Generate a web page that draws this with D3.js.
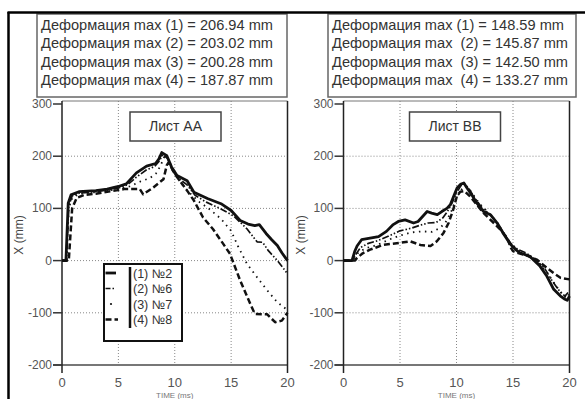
<!DOCTYPE html>
<html>
<head>
<meta charset="utf-8">
<script src="https://cdn.jsdelivr.net/npm/d3@7"></script>
<style>
  body { margin: 0; background: #fff; }
  svg { display: block; font-family: "Liberation Sans", Arial, sans-serif; }
</style>
</head>
<body>
<div id="chart"></div>
<script>
// axis ticks
var timeTicks = [0, 5, 10, 15, 20];
var valueTicks = [-200, -100, 0, 100, 200, 300];
var gridValues = [-100, 0, 100, 200];
var gridTimes = [5, 10, 15];

var seriesNames = ["(1) №2", "(2) №6", "(3) №7", "(4) №8"];

var aaMaxLines = [
  "Деформация max (1) = 206.94 mm",
  "Деформация max (2) = 203.02 mm",
  "Деформация max (3) = 200.28 mm",
  "Деформация max (4) = 187.87 mm"
];
var bbMaxLines = [
  "Деформация max (1) = 148.59 mm",
  "Деформация max  (2) = 145.87 mm",
  "Деформация max  (3) = 142.50 mm",
  "Деформация max  (4) = 133.27 mm"
];

// [time ms, X mm]
var aa1 = [[0,0],[0.35,0],[0.55,110],[0.8,126],[1.5,132],[3,134],[4,137],[5,142],[5.7,147],[6.6,168],[7.5,181],[8.3,186],[8.6,195],[8.85,206.94],[9.3,201],[9.7,180],[10.2,163],[11.1,153],[11.7,131],[12.9,119],[14.1,109],[15,96],[15.8,77],[16.5,70],[17.1,67],[17.5,69],[18.1,52],[18.6,40],[19.1,29],[19.5,15],[20,0]];
var aa2 = [[0,0],[0.4,0],[0.6,105],[0.9,124],[1.5,129],[3,132],[4,135],[5,139],[5.8,145],[6.6,160],[7.5,174],[8.2,180],[8.6,190],[8.95,203.02],[9.4,195],[9.8,172],[10.3,158],[11.1,145],[11.8,125],[12.8,112],[14,100],[15.2,86],[16.4,61],[17.3,36],[17.8,35],[18.3,19],[19.1,0],[20,-25]];
var aa3 = [[0,0],[0.4,0],[0.6,100],[0.9,120],[1.5,128],[3,131],[4,134],[5,137],[6,142],[7,152],[7.8,158],[8.4,168],[8.8,185],[9.1,200.28],[9.5,192],[9.9,170],[10.5,150],[11.3,130],[12.2,112],[13,100],[14.1,80],[15,57],[15.6,28],[16.4,-6],[17.3,-32],[18.2,-57],[19.1,-80],[19.6,-88],[20,-95]];
var aa4 = [[0,0],[0.6,0],[0.9,100],[1.3,120],[2,126],[3,128],[4,132],[5,135],[5.5,137],[6.9,137],[7.2,127],[8.1,140],[9,156],[9.3,183],[9.45,187.87],[9.65,180],[10.2,160],[11.1,134],[11.7,115],[12.5,83],[13.4,60],[14.3,32],[14.9,13],[15.8,-38],[16.7,-83],[17.1,-102],[18.2,-103],[18.9,-118],[19.5,-115],[20,-100]];

var bb1 = [[0,0],[0.75,0],[1,18],[1.2,28],[1.6,40],[2.35,43],[3.1,46],[3.8,56],[4.4,69],[4.85,75],[5.45,78],[6.2,72],[6.6,75],[7.4,94],[7.8,91],[8.3,88],[8.7,94],[9.15,100],[9.45,107],[9.75,123],[10.05,139],[10.35,146],[10.65,148.59],[10.9,140],[11.35,126],[11.8,110],[12.4,94],[13,88],[13.6,72],[14.2,50],[14.75,32],[15.3,20],[15.6,15],[16.5,8],[17.4,-11],[18,-30],[18.6,-55],[19.2,-68],[19.6,-74],[19.8,-76],[20,-68]];
var bb2 = [[0,0],[0.8,0],[1.1,12],[1.5,25],[2.2,33],[3,38],[4,47],[5,57],[6,62],[6.8,68],[7.5,72],[8.2,73],[8.8,82],[9.2,94],[9.6,110],[10,130],[10.4,144],[10.75,145.87],[11.1,138],[11.6,120],[12.3,100],[13,88],[13.6,72],[14.2,52],[14.8,33],[15.4,22],[16.2,14],[17,2],[17.8,-15],[18.5,-40],[19.1,-58],[19.6,-68],[20,-58]];
var bb3 = [[0,0],[0.9,0],[1.3,15],[2,24],[3,30],[4,40],[5,48],[6,54],[7,56],[7.8,55],[8.5,62],[9,72],[9.5,92],[10,120],[10.5,138],[10.85,142.5],[11.3,132],[12,110],[12.8,92],[13.5,76],[14.2,52],[14.8,32],[15.5,18],[16.3,10],[17.2,-3],[18,-22],[18.8,-48],[19.4,-66],[19.8,-72],[20,-62]];
var bb4 = [[0,0],[1,0],[1.2,5],[1.7,14],[2.35,21],[3.5,30],[5,34],[5.9,37],[6.8,30],[7.7,28],[8.26,37],[8.85,53],[9.3,72],[9.7,97],[10.03,123],[10.33,132],[10.7,133.27],[11.2,123],[11.8,107],[12.4,91],[13.3,72],[13.9,59],[14.5,43],[14.8,25],[15,18],[15.35,15],[16.2,10],[17.1,2],[18,-14],[18.6,-24],[19.2,-33],[20,-36]];

// line styles of the 4 cases
var styles = [
  {width: 2.8, dash: null},
  {width: 1.7, dash: "7,2,1.5,2,1.5,2"},
  {width: 1.8, dash: "1.5,4.5"},
  {width: 2.5, dash: "6,3"}
];

var W = 585, H = 399;
var svg = d3.select("#chart").append("svg")
    .attr("width", W)
    .attr("height", H);

function panel(p) {
    var x = d3.scaleLinear().domain([0, 20]).range([p.x0, p.x1]);
    var y = d3.scaleLinear().domain([-200, 300]).range([365, 104]);
    var g = svg.append("g");
    var top = 101, bottom = 373;

    // info box with the max values
    g.append("rect")
        .attr("x", p.boxX).attr("y", 14)
        .attr("width", p.boxW).attr("height", 83)
        .attr("fill", "#fff").attr("stroke", "#666").attr("stroke-width", 1.5);
    g.selectAll("text.max")
        .data(p.lines)
        .join("text")
        .attr("class", "max")
        .attr("x", p.boxX + 4)
        .attr("y", (d, i) => 29.5 + i * 18.6)
        .attr("font-size", "14.6px")
        .attr("fill", "#333")
        .style("white-space", "pre")
        .text(d => d);

    // grid
    g.selectAll("line.gx")
        .data(gridTimes)
        .join("line")
        .attr("x1", d => x(d)).attr("x2", d => x(d))
        .attr("y1", top).attr("y2", y(-200))
        .attr("stroke", "#888").attr("stroke-dasharray", "1,2");
    g.selectAll("line.gy")
        .data(gridValues)
        .join("line")
        .attr("x1", x(0)).attr("x2", x(20))
        .attr("y1", d => y(d)).attr("y2", d => y(d))
        .attr("stroke", "#888").attr("stroke-dasharray", "1,2");

    // frame
    g.append("line")
        .attr("x1", x(0)).attr("x2", x(20)).attr("y1", top).attr("y2", top)
        .attr("stroke", "#777").attr("stroke-width", 1);
    g.append("line")
        .attr("x1", x(0) - 9).attr("x2", x(20)).attr("y1", y(-200)).attr("y2", y(-200))
        .attr("stroke", "#777").attr("stroke-width", 2);
    g.append("line")
        .attr("x1", x(20)).attr("x2", x(20)).attr("y1", top).attr("y2", bottom)
        .attr("stroke", "#222").attr("stroke-width", 1.5);
    g.append("line")
        .attr("x1", x(0)).attr("x2", x(0)).attr("y1", top).attr("y2", bottom)
        .attr("stroke", "#222").attr("stroke-width", 1.5);

    // y ticks
    g.selectAll("line.ty")
        .data(valueTicks)
        .join("line")
        .attr("x1", x(0) - 9).attr("x2", x(0))
        .attr("y1", d => y(d)).attr("y2", d => y(d))
        .attr("stroke", "#333").attr("stroke-width", 1.5);
    g.selectAll("text.ty")
        .data(valueTicks)
        .join("text")
        .attr("x", x(0) - 10)
        .attr("y", d => y(d) + 4)
        .attr("text-anchor", "end")
        .attr("font-size", "12px")
        .attr("fill", "#555")
        .text(d => d);

    // x ticks
    g.selectAll("text.tx")
        .data(timeTicks)
        .join("text")
        .attr("x", d => x(d))
        .attr("y", 387)
        .attr("text-anchor", "middle")
        .attr("font-size", "13px")
        .attr("fill", "#555")
        .text(d => d);

    // axis titles
    g.append("text")
        .attr("transform", "translate(" + (x(0) - 39) + ",235) rotate(-90)")
        .attr("text-anchor", "middle")
        .attr("font-size", "12px")
        .attr("fill", "#444")
        .text("X (mm)");
    g.append("text")
        .attr("x", x(10)).attr("y", 397.5)
        .attr("text-anchor", "middle")
        .attr("font-size", "8px")
        .attr("fill", "#777")
        .text("TIME (ms)");

    // sheet label
    g.append("rect")
        .attr("x", x(0) + p.labelOff).attr("y", 112)
        .attr("width", 91).attr("height", 29)
        .attr("fill", "#fff").attr("stroke", "#444").attr("stroke-width", 1.5);
    g.append("text")
        .attr("x", x(0) + p.labelOff + 45.5).attr("y", 131)
        .attr("text-anchor", "middle")
        .attr("font-size", "14px")
        .attr("fill", "#333")
        .text(p.label);

    // curves
    var line = d3.line()
        .x(d => x(d[0]))
        .y(d => y(d[1]));
    p.series.forEach(function(s, i) {
        g.append("path")
            .attr("d", line(s))
            .attr("fill", "none")
            .attr("stroke", "#111")
            .attr("stroke-width", styles[i].width)
            .attr("stroke-dasharray", styles[i].dash)
            .attr("stroke-linejoin", "round");
    });
}

panel({x0: 62, x1: 287.5, boxX: 37, boxW: 250, lines: aaMaxLines,
       label: "Лист AA", labelOff: 68, series: [aa1, aa2, aa3, aa4]});
panel({x0: 343.5, x1: 569.5, boxX: 328, boxW: 248, lines: bbMaxLines,
       label: "Лист BB", labelOff: 66, series: [bb1, bb2, bb3, bb4]});

// legend (left panel)
var leg = svg.append("g");
leg.append("rect")
    .attr("x", 104).attr("y", 264).attr("width", 78).attr("height", 77)
    .attr("fill", "#fff").attr("stroke", "#111").attr("stroke-width", 2);
leg.append("line")
    .attr("x1", 130).attr("x2", 130).attr("y1", 267).attr("y2", 328)
    .attr("stroke", "#111").attr("stroke-width", 2.5);
seriesNames.forEach(function(name, i) {
    var yy = 273 + i * 15.5;
    if (i === 2) {
        leg.append("circle").attr("cx", 111).attr("cy", yy).attr("r", 1.1).attr("fill", "#111");
    } else {
        leg.append("line")
            .attr("x1", 105.5).attr("x2", i === 3 ? 118 : 116)
            .attr("y1", yy).attr("y2", yy)
            .attr("stroke", "#111")
            .attr("stroke-width", styles[i].width)
            .attr("stroke-dasharray", i === 1 ? "5,2,1.5,2" : styles[i].dash);
    }
    leg.append("text")
        .attr("x", 133).attr("y", yy + 4.5)
        .attr("font-size", "12.5px")
        .attr("fill", "#333")
        .text(name);
});

// outer frame
svg.append("line")
    .attr("x1", 7.5).attr("x2", W).attr("y1", 12.5).attr("y2", 12.5)
    .attr("stroke", "#000").attr("stroke-width", 2.5);
svg.append("line")
    .attr("x1", 8.5).attr("x2", 8.5).attr("y1", 12).attr("y2", H)
    .attr("stroke", "#000").attr("stroke-width", 2.5);
</script>
</body>
</html>
